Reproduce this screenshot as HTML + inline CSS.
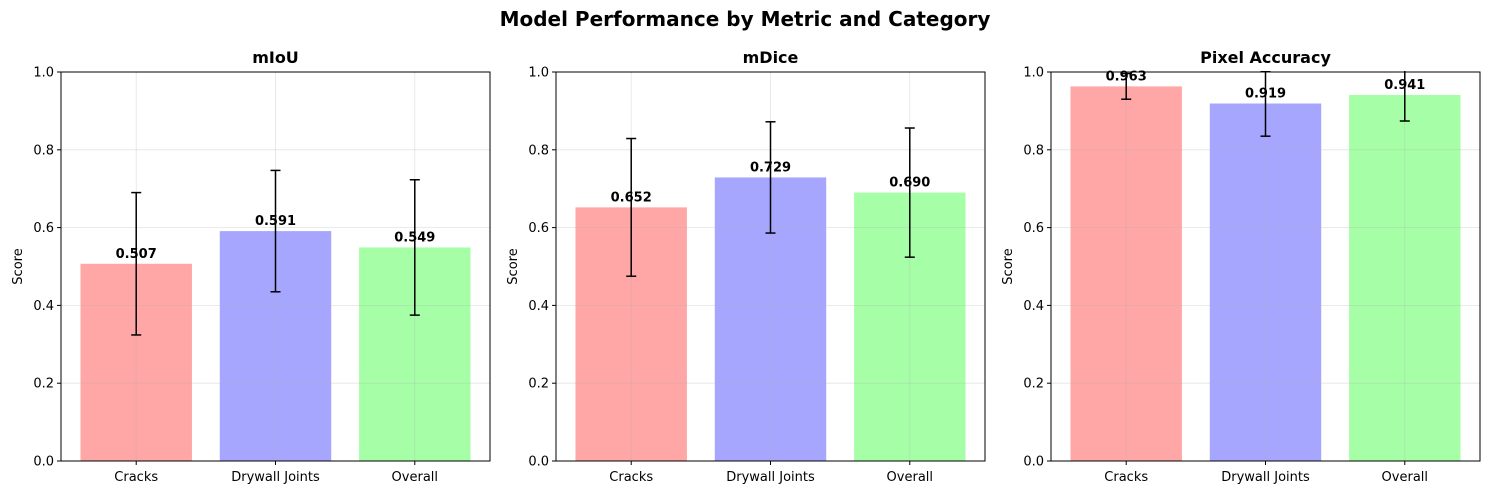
<!DOCTYPE html>
<html><head><meta charset="utf-8"><style>
body{margin:0;background:#fff;font-family:"Liberation Sans","DejaVu Sans",sans-serif}
svg text{font-family:"DejaVu Sans","Liberation Sans",sans-serif}
</style></head><body>
<svg id="chart" width="1490" height="495" xmlns="http://www.w3.org/2000/svg">
<text x="745" y="26" text-anchor="middle" font-size="20" font-weight="bold">Model Performance by Metric and Category</text>
</svg>
<script>
const categories=["Cracks","Drywall Joints","Overall"];
const metrics=["mIoU","mDice","Pixel Accuracy"];
const miouValues=[0.507,0.591,0.549];
const miouErr=[0.183,0.156,0.174];
const mdiceValues=[0.652,0.729,0.690];
const mdiceErr=[0.177,0.143,0.166];
const paValues=[0.963,0.919,0.941];
const paErr=[0.033,0.084,0.067];
const yTicks=[0,0.2,0.4,0.6,0.8,1.0];
const allValues=[miouValues,mdiceValues,paValues];
const allErr=[miouErr,mdiceErr,paErr];
const colors=["#ffa6a6","#a6a6ff","#a6ffa6"];
const NS="http://www.w3.org/2000/svg";
const svgEl=document.getElementById('chart');
function mk(tag,attrs,parent){const e=document.createElementNS(NS,tag);for(const k in attrs)e.setAttribute(k,attrs[k]);(parent||svgEl).appendChild(e);return e;}
const panelLeft=[61,556,1051],W=429,topY=72,bottomY=461,H=bottomY-topY;
const xmin=-0.54,xmax=2.54;
metrics.forEach((m,p)=>{
  const L=panelLeft[p];
  const xs=v=>L+(v-xmin)/(xmax-xmin)*W;
  const ys=v=>bottomY-v*H;
  const g=mk('g',{});
  
  
  const vals=allValues[p],errs=allErr[p];
  vals.forEach((v,i)=>{
    const bw=(xs(0.4)-xs(-0.4));
    const r=mk('rect',{x:xs(i)-bw/2,y:ys(v),width:bw,height:ys(0)-ys(v),fill:colors[i]},g);
    
    
  });
  yTicks.forEach(t=>{mk('line',{x1:L,x2:L+W,y1:ys(t),y2:ys(t),stroke:'#b0b0b0','stroke-opacity':0.35,'stroke-width':0.8},g);});
  categories.forEach((c,i)=>{mk('line',{x1:xs(i),x2:xs(i),y1:topY,y2:bottomY,stroke:'#b0b0b0','stroke-opacity':0.35,'stroke-width':0.8},g);});
  const cid='clip'+p;
  const cp=mk('clipPath',{id:cid},g);mk('rect',{x:L,y:topY-1,width:W,height:H+1},cp);
  const eg=mk('g',{'clip-path':'url(#'+cid+')'},g);
  vals.forEach((v,i)=>{
    const x=xs(i),y1=ys(v+errs[i]),y2=ys(v-errs[i]);
    const e=mk('g',{},eg);
    
    
    mk('line',{x1:x,x2:x,y1:y1,y2:y2,stroke:'#000','stroke-width':1.5},e);
    mk('line',{x1:x-5,x2:x+5,y1:y1,y2:y1,stroke:'#000','stroke-width':1.5},e);
    mk('line',{x1:x-5,x2:x+5,y1:y2,y2:y2,stroke:'#000','stroke-width':1.5},e);
  });
  vals.forEach((v,i)=>{
    const t=mk('text',{x:xs(i),y:ys(v+0.01)-2,'text-anchor':'middle','font-size':13,'font-weight':'bold'},g);
    t.textContent=v.toFixed(3);
    
    
  });
  mk('rect',{x:L,y:topY,width:W,height:H,fill:'none',stroke:'#000','stroke-width':1},g);
  yTicks.forEach(t=>{
    mk('line',{x1:L-4,x2:L,y1:ys(t),y2:ys(t),stroke:'#000'},g);
    const tx=mk('text',{x:L-7,y:ys(t)+4.5,'text-anchor':'end','font-size':13},g);
    tx.textContent=t.toFixed(1);
    
    
  });
  categories.forEach((c,i)=>{
    mk('line',{x1:xs(i),x2:xs(i),y1:bottomY,y2:bottomY+4,stroke:'#000'},g);
    const tx=mk('text',{x:xs(i),y:bottomY+20,'text-anchor':'middle','font-size':13},g);
    tx.textContent=c;
    
    
  });
  const yl=mk('text',{x:0,y:0,'text-anchor':'middle','font-size':13,transform:`translate(${L-39},${(topY+bottomY)/2}) rotate(-90)`},g);
  yl.textContent='Score';
  
  
  const ti=mk('text',{x:L+W/2,y:topY-9,'text-anchor':'middle','font-size':16,'font-weight':'bold'},g);
  ti.textContent=m;
  
  
});
</script>
</body></html>
